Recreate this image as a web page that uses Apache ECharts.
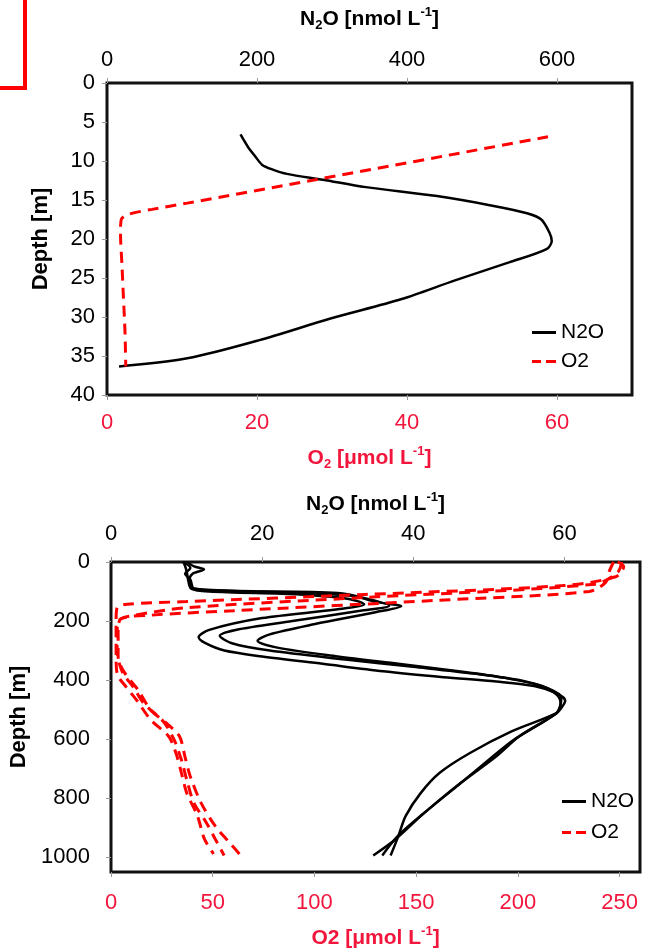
<!DOCTYPE html>
<html>
<head>
<meta charset="utf-8">
<script src="https://cdn.jsdelivr.net/npm/echarts@6/dist/echarts.min.js"></script>
<style>html,body{margin:0;padding:0;background:#fff;}#c{width:645px;height:948px;}</style>
</head>
<body>
<div id="c"></div>
<script>
// ---------- Top panel (depth in m) ----------
const topN2ODepth = [6.6, 8.2, 9.45, 10.5, 11.1, 11.65, 12.4, 13.35, 14.5, 15.7, 16.7, 17.5, 19.2, 20.25, 21.3, 23.0, 25.3, 27.7, 30.2, 33.0, 35.3, 36.35];
const topN2O      = [178, 188, 198, 207, 221, 240, 288, 345, 440, 512, 560, 579, 590, 593, 586, 536, 464, 393, 298, 202, 107, 16];
const topO2Depth  = [6.9, 12.4, 15.4, 16.2, 16.8, 17.5, 19.2, 23.4, 27.7, 31.9, 36.35];
const topO2       = [58.8, 27.8, 10.7, 6.0, 3.0, 1.9, 1.8, 2.0, 2.2, 2.4, 2.5];

// ---------- Bottom panel (depth in m) ----------
const n2oADepth = [0, 30, 60, 90, 100, 110, 125, 143, 160, 190, 230, 255, 275, 300, 320, 345, 370, 390, 405, 420, 445, 470, 490, 513, 574, 647, 714, 782, 860, 930, 994];
const n2oA      = [9.6, 10.0, 10.2, 10.6, 13, 25, 31.5, 33.5, 30, 20, 13, 11.6, 12.5, 15, 20, 28, 36, 44, 51, 56, 59, 60.1, 59.7, 58.9, 53.0, 47.5, 43.5, 41.0, 39.0, 38.0, 37.0];
const n2oBDepth = [0, 15, 25, 40, 60, 90, 98, 105, 125, 148, 165, 200, 230, 250, 275, 300, 330, 355, 378, 400, 430, 460, 490, 513, 591, 658, 748, 838, 927, 994];
const n2oB      = [10.0, 11.0, 12.3, 10.8, 10.4, 10.8, 16, 30, 34, 36.8, 33, 24, 16.5, 14.4, 16, 21, 31, 40, 48, 54, 58, 59.6, 59.4, 58.9, 54.0, 51.0, 46.3, 42.0, 38.0, 35.9];
const n2oCDepth = [0, 20, 40, 60, 90, 100, 115, 135, 150, 170, 210, 245, 267, 290, 320, 345, 370, 392, 420, 450, 480, 513, 602, 670, 759, 849, 938, 994];
const n2oC      = [9.5, 10.5, 9.8, 10.5, 11, 20, 32, 35, 38.4, 35, 27, 21, 19.4, 22, 30, 38, 46, 52, 57, 59, 59.5, 58.9, 53.3, 50.0, 45.8, 41.5, 37.7, 34.7];

const o2ADepth = [0, 15, 50, 80, 110, 134, 143, 155, 200, 260, 320, 378, 423, 468, 535, 591, 647, 714, 782, 860, 938, 989];
const o2A      = [249, 252, 248, 222, 125, 37, 8, 3, 2.5, 2.5, 2.5, 3.0, 7.4, 12.6, 19.6, 28.4, 31.9, 34.6, 37.2, 42.5, 45.9, 50.4];
const o2BDepth = [0, 35, 75, 120, 155, 185, 198, 240, 300, 373, 423, 479, 541, 602, 670, 737, 815, 882, 938, 994];
const o2B      = [251, 249, 238, 125, 37, 8, 4, 3, 3, 5.6, 10.9, 16.1, 25.8, 31.0, 34.6, 37.2, 40.7, 46.8, 51.2, 55.6];
const o2CDepth = [0, 30, 70, 100, 130, 165, 180, 195, 250, 320, 373, 435, 502, 547, 591, 658, 725, 815, 894, 950, 992];
const o2C      = [247, 245, 243, 235, 160, 60, 20, 4.5, 3.5, 3.5, 6.5, 13.5, 19.6, 27.5, 33.7, 36.3, 38.9, 44.2, 51.2, 58.2, 63.5];

// ---------- Axis settings ----------
const topN2OAxis = {min: 0, max: 700, interval: 200};
const topO2Axis  = {min: 0, max: 70, interval: 20};
const topDepthAxis = {min: 0, max: 40, interval: 5};
const botN2OAxis = {min: 0, max: 70, interval: 20};
const botO2Axis  = {min: 0, max: 260, interval: 50};
const botDepthAxis = {min: 0, max: 1050, interval: 200};

const pair = (vals, depths) => vals.map((v, i) => [v, depths[i]]);

const FONT = "'Liberation Sans', Arial, sans-serif";
const RED_TXT = '#f2163c';
const RED_LINE = '#ff0000';

function richStyle(color) {
  return {
    fontSize: 21, fontWeight: 'bold', color: color, fontFamily: FONT, lineHeight: 26,
    rich: {
      m: {fontSize: 21, fontWeight: 'bold', color: color, fontFamily: FONT, lineHeight: 26},
      sub: {fontSize: 13, fontWeight: 'bold', color: color, fontFamily: FONT, verticalAlign: 'bottom', lineHeight: 26},
      sup: {fontSize: 13, fontWeight: 'bold', color: color, fontFamily: FONT, verticalAlign: 'top', lineHeight: 14}
    }
  };
}

function xAx(grid, pos, cfg, color, name, nameGap, margin) {
  return Object.assign({
    type: 'value', gridIndex: grid, position: pos,
    name: name, nameLocation: 'middle', nameGap: nameGap,
    nameTextStyle: richStyle(color),
    axisLine: {show: false},
    axisTick: {show: true, length: 5, lineStyle: {color: '#999', width: 1}},
    axisLabel: {color: color, fontSize: 22, fontFamily: FONT, margin: margin, showMaxLabel: false,
                formatter: v => String(v)},
    splitLine: {show: false}
  }, cfg);
}
function yAx(grid, cfg, margin, nameGap) {
  return Object.assign({
    type: 'value', gridIndex: grid, inverse: true,
    name: 'Depth [m]', nameLocation: 'middle', nameGap: nameGap,
    nameTextStyle: {fontSize: 22, fontWeight: 'bold', color: '#000', fontFamily: FONT},
    axisLine: {show: false},
    axisTick: {show: true, length: 5, lineStyle: {color: '#999', width: 1}},
    axisLabel: {color: '#000', fontSize: 22, fontFamily: FONT, margin: margin,
                showMaxLabel: cfg.max % cfg.interval === 0, formatter: v => String(v)},
    splitLine: {show: false}
  }, cfg);
}

function lineSeries(name, data, xi, yi, dashed) {
  return {
    type: 'line', name: name, data: data, xAxisIndex: xi, yAxisIndex: yi,
    symbol: 'none', smooth: 0.3, silent: true,
    lineStyle: dashed ? {color: RED_LINE, width: 3, type: [11, 7]} : {color: '#000', width: 2.5},
    itemStyle: {color: dashed ? RED_LINE : '#000'}
  };
}

const legendData = [
  {name: 'N2O', icon: 'path://M0,0h24v3h-24z'},
  {name: 'O2', icon: 'path://M0,0h9v3h-9z M14,0h10v3h-10z'}
];

const chart = echarts.init(document.getElementById('c'), null, {renderer: 'canvas'});
chart.setOption({
  animation: false,
  backgroundColor: '#fff',
  grid: [
    {left: 107, top: 83, width: 525, height: 312, show: true, borderColor: '#111', borderWidth: 3,
     backgroundColor: 'transparent', containLabel: false, outerBoundsMode: 'none'},
    {left: 111, top: 562, width: 529, height: 310, show: true, borderColor: '#111', borderWidth: 3,
     backgroundColor: 'transparent', containLabel: false, outerBoundsMode: 'none'}
  ],
  xAxis: [
    xAx(0, 'top', topN2OAxis, '#000', '{m|N}{sub|2}{m|O [nmol L}{sup|-1}{m|]}', 51, 12),
    xAx(0, 'bottom', topO2Axis, RED_TXT, '{m|O}{sub|2}{m| [μmol L}{sup|-1}{m|]}', 50, 17),
    xAx(1, 'top', botN2OAxis, '#000', '{m|N}{sub|2}{m|O [nmol L}{sup|-1}{m|]}', 45, 17),
    xAx(1, 'bottom', botO2Axis, RED_TXT, '{m|O2 [μmol L}{sup|-1}{m|]}', 53, 20)
  ],
  yAxis: [
    yAx(0, topDepthAxis, 12, 55),
    yAx(1, botDepthAxis, 21, 60)
  ],
  legend: [
    {data: legendData, orient: 'vertical', left: 527, top: 317, itemWidth: 24, itemHeight: 3, itemGap: 8,
     selectedMode: false, textStyle: {fontSize: 21, color: '#000', fontFamily: FONT}},
    {data: legendData, orient: 'vertical', left: 557, top: 786, itemWidth: 24, itemHeight: 3, itemGap: 10,
     selectedMode: false, textStyle: {fontSize: 21, color: '#000', fontFamily: FONT}}
  ],
  graphic: [
    {type: 'polyline', shape: {points: [[25, 0], [25, 88], [0, 88]]}, style: {stroke: '#ff0000', lineWidth: 4, fill: null}}
  ],
  series: [
    lineSeries('N2O', pair(topN2O, topN2ODepth), 0, 0, false),
    lineSeries('O2', pair(topO2, topO2Depth), 1, 0, true),
    lineSeries('N2O', pair(n2oA, n2oADepth), 2, 1, false),
    lineSeries('N2O', pair(n2oB, n2oBDepth), 2, 1, false),
    lineSeries('N2O', pair(n2oC, n2oCDepth), 2, 1, false),
    lineSeries('O2', pair(o2A, o2ADepth), 3, 1, true),
    lineSeries('O2', pair(o2B, o2BDepth), 3, 1, true),
    lineSeries('O2', pair(o2C, o2CDepth), 3, 1, true)
  ]
});
</script>
</body>
</html>
